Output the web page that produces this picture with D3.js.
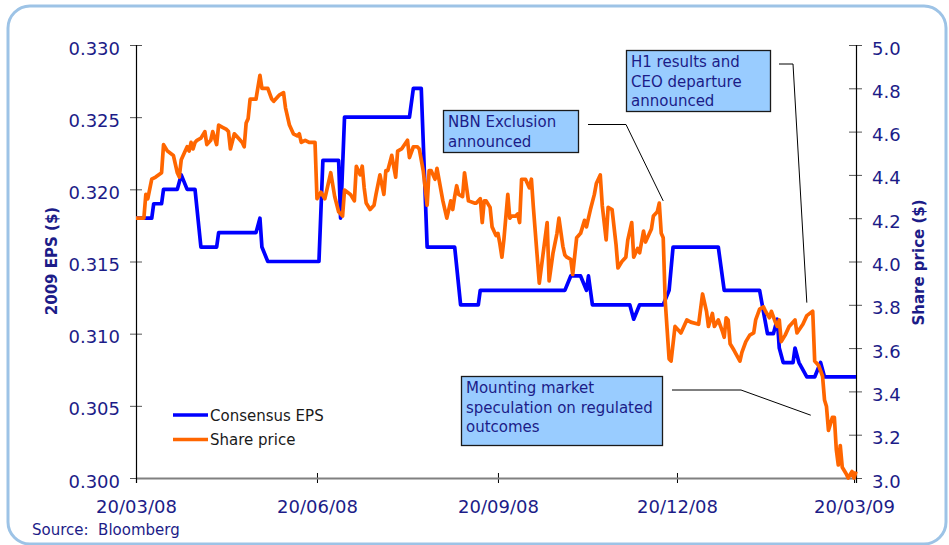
<!DOCTYPE html>
<html>
<head>
<meta charset="utf-8">
<script src="https://cdnjs.cloudflare.com/ajax/libs/d3/7.8.5/d3.min.js"></script>
<style>
    body { margin: 0; background: #fff; }
    svg text { font-family: "DejaVu Sans", Verdana, sans-serif; }
</style>
</head>
<body>
<div id="root"></div>
<script>
// Consensus EPS vs share price, dual axis line chart
"use strict";

/* ************************************* Data ******************************** */

// Days are counted from 20/03/08
const startDay = "20/03/08";

const epsDays = [0, 8, 9, 13, 14, 21, 23, 26, 30, 33, 41, 42, 61, 63, 64, 67, 93, 95, 103, 104,
    106, 139, 141, 145, 148, 162, 165, 174, 175, 218, 221, 226, 229, 230, 232, 251, 253, 256, 268, 271,
    273, 296, 299, 317, 321, 324, 326, 327, 329, 334, 335, 337, 341, 345, 348, 350, 366];
const epsValues = [0.318, 0.318, 0.319, 0.319, 0.320, 0.320, 0.321, 0.320, 0.320, 0.316, 0.316, 0.317, 0.317, 0.318, 0.316, 0.315, 0.315, 0.322, 0.322, 0.318,
    0.325, 0.325, 0.327, 0.327, 0.316, 0.316, 0.312, 0.312, 0.313, 0.313, 0.314, 0.314, 0.313, 0.314, 0.312, 0.312, 0.311, 0.312, 0.312, 0.313,
    0.316, 0.316, 0.313, 0.313, 0.310, 0.310, 0.311, 0.309, 0.308, 0.308, 0.309, 0.308, 0.307, 0.307, 0.308, 0.307, 0.307];

const priceDays = [0, 4, 5, 6, 8, 10, 13, 14, 16, 19, 21, 22, 23, 25, 26, 27, 28, 29, 30, 31,
    33, 35, 36, 38, 39, 41, 42, 44, 46, 47, 48, 50, 52, 54, 55, 56, 57, 58, 61, 63,
    64, 67, 69, 70, 73, 75, 76, 78, 80, 82, 83, 84, 86, 88, 91, 92, 94, 96, 99, 101,
    103, 105, 106, 109, 111, 112, 114, 115, 116, 117, 119, 121, 122, 124, 126, 127, 128, 130, 132, 133,
    135, 138, 139, 141, 143, 144, 146, 148, 149, 150, 152, 153, 156, 158, 160, 161, 162, 163, 164, 166,
    167, 169, 172, 173, 175, 176, 177, 178, 180, 181, 183, 184, 185, 186, 187, 189, 190, 191, 193, 194,
    195, 196, 198, 200, 201, 202, 205, 207, 209, 210, 212, 214, 215, 217, 218, 219, 221, 222, 224, 226,
    228, 229, 230, 231, 233, 234, 236, 237, 239, 240, 242, 244, 245, 247, 249, 250, 252, 253, 255, 256,
    258, 259, 262, 263, 265, 266, 267, 268, 269, 271, 272, 274, 276, 277, 280, 282, 286, 288, 290, 291,
    293, 294, 296, 298, 299, 300, 301, 302, 304, 307, 308, 310, 312, 314, 315, 317, 319, 320, 322, 323,
    325, 326, 327, 328, 330, 332, 335, 336, 339, 341, 344, 345, 347, 349, 350, 351, 352, 354, 355, 356,
    357, 358, 359, 361, 362, 364, 365, 366];
const priceValues = [4.20, 4.20, 4.31, 4.29, 4.38, 4.39, 4.41, 4.54, 4.51, 4.49, 4.41, 4.39, 4.47, 4.51, 4.53, 4.51, 4.55, 4.52, 4.55, 4.56,
    4.57, 4.60, 4.54, 4.56, 4.60, 4.54, 4.63, 4.62, 4.61, 4.60, 4.52, 4.59, 4.57, 4.55, 4.53, 4.64, 4.66, 4.75, 4.75, 4.86,
    4.80, 4.80, 4.75, 4.74, 4.77, 4.78, 4.71, 4.63, 4.59, 4.58, 4.59, 4.55, 4.56, 4.55, 4.55, 4.29, 4.32, 4.29, 4.41, 4.30,
    4.23, 4.21, 4.33, 4.31, 4.28, 4.44, 4.40, 4.44, 4.34, 4.27, 4.24, 4.26, 4.31, 4.40, 4.31, 4.42, 4.42, 4.49, 4.39, 4.51,
    4.52, 4.56, 4.48, 4.53, 4.53, 4.52, 4.42, 4.26, 4.42, 4.42, 4.38, 4.43, 4.28, 4.20, 4.28, 4.24, 4.30, 4.35, 4.31, 4.30,
    4.41, 4.28, 4.27, 4.27, 4.29, 4.18, 4.28, 4.28, 4.25, 4.16, 4.12, 4.13, 4.08, 4.02, 4.10, 4.31, 4.20, 4.21, 4.21, 4.22,
    4.18, 4.38, 4.38, 4.34, 4.38, 4.25, 3.90, 4.04, 4.18, 3.91, 4.04, 4.13, 4.20, 4.07, 4.03, 4.02, 4.01, 3.94, 4.11, 4.13,
    4.19, 4.16, 4.20, 4.24, 4.31, 4.36, 4.40, 4.26, 4.10, 4.25, 4.24, 4.08, 3.97, 4.00, 4.02, 4.10, 4.18, 4.02, 4.06, 4.04,
    4.14, 4.09, 4.15, 4.21, 4.23, 4.27, 4.13, 4.11, 3.82, 3.55, 3.54, 3.70, 3.68, 3.67, 3.73, 3.72, 3.71, 3.85, 3.77, 3.70,
    3.76, 3.70, 3.73, 3.68, 3.65, 3.74, 3.73, 3.62, 3.59, 3.54, 3.58, 3.63, 3.66, 3.67, 3.73, 3.78, 3.79, 3.77, 3.74, 3.77,
    3.72, 3.70, 3.73, 3.63, 3.66, 3.70, 3.73, 3.67, 3.71, 3.75, 3.77, 3.54, 3.52, 3.47, 3.36, 3.33, 3.22, 3.28, 3.28, 3.13,
    3.06, 3.15, 3.05, 3.02, 3.00, 3.03, 3.00, 3.03];

const xTickLabels = ["20/03/08", "20/06/08", "20/09/08", "20/12/08", "20/03/09"];
const epsTicks = [0.300, 0.305, 0.310, 0.315, 0.320, 0.325, 0.330];
const priceTicks = [3.0, 3.2, 3.4, 3.6, 3.8, 4.0, 4.2, 4.4, 4.6, 4.8, 5.0];

const seriesNames = ["Consensus EPS", "Share price"];

// Annotations: text lines and the point (day, share price) each leader line points at
const annotationLines = [
    ["NBN Exclusion", "announced"],
    ["H1 results and", "CEO departure", "announced"],
    ["Mounting market", "speculation on regulated", "outcomes"]
];
const annotationDays = [268, 341, 343.5];
const annotationPrices = [4.28, 3.81, 3.29];

/* ************************************* Set up ******************************** */

const width = 949;
const height = 545;

const margin = {
    top: 45,
    right: 93,
    bottom: 67,
    left: 136
};

const drawWidth = width - margin.left - margin.right;
const drawHeight = height - margin.top - margin.bottom;

const epsColor = "#0000FF";
const priceColor = "#FF6600";
const navy = "#1c1c88";
const lineWidth = 3.7;

const parseDay = d3.timeParse("%d/%m/%y");
const start = parseDay(startDay);
const dayToDate = (d) => d3.timeDay.offset(start, d);

let svg = d3.select('#root')
    .append('svg')
    .attr('width', width)
    .attr('height', height);

// Rounded light blue frame
svg.append('rect')
    .attr('x', 8)
    .attr('y', 6)
    .attr('width', 938)
    .attr('height', 538)
    .attr('rx', 22)
    .attr('fill', 'none')
    .attr('stroke', '#9DC3E6')
    .attr('stroke-width', 3);

let chartG = svg.append('g')
    .attr('transform', 'translate(' + margin.left + ',' + margin.top + ')');

/* ************************************* Scales ******************************** */

let xScale = d3.scaleTime()
    .domain([start, dayToDate(366)])
    .range([0, drawWidth]);

let epsScale = d3.scaleLinear()
    .domain([0.300, 0.330])
    .range([drawHeight, 0]);

let priceScale = d3.scaleLinear()
    .domain([3.0, 5.0])
    .range([drawHeight, 0]);

/* ************************************* Axes ******************************** */

let xAxis = d3.axisBottom(xScale)
    .tickValues(xTickLabels.map(parseDay))
    .tickFormat(d3.timeFormat("%d/%m/%y"))
    .tickSize(0)
    .tickPadding(22);

let yAxisLeft = d3.axisLeft(epsScale)
    .tickValues(epsTicks)
    .tickFormat(d3.format(".3f"))
    .tickSize(0)
    .tickPadding(16);

let yAxisRight = d3.axisRight(priceScale)
    .tickValues(priceTicks)
    .tickFormat(d3.format(".1f"))
    .tickSize(0)
    .tickPadding(16);

let xG = chartG.append('g')
    .attr('transform', 'translate(0,' + drawHeight + ')')
    .call(xAxis);

let leftG = chartG.append('g').call(yAxisLeft);

let rightG = chartG.append('g')
    .attr('transform', 'translate(' + drawWidth + ',0)')
    .call(yAxisRight);

// Plain axis lines, drawn by hand so the colours match
[xG, leftG, rightG].forEach((g) => g.select('.domain').remove());

chartG.append('line')
    .attr('x1', 0).attr('x2', drawWidth)
    .attr('y1', drawHeight + 0.5).attr('y2', drawHeight + 0.5)
    .attr('stroke', '#808080')
    .attr('stroke-width', 2);

[0, drawWidth].forEach((x) => {
    chartG.append('line')
        .attr('x1', x + 0.5).attr('x2', x + 0.5)
        .attr('y1', 0).attr('y2', drawHeight + 5)
        .attr('stroke', '#000')
        .attr('stroke-width', 1.2);
});

// Ticks cross the axis line
xG.selectAll('.tick line').attr('y1', -5).attr('y2', 5).attr('stroke', '#000');
leftG.selectAll('.tick line').attr('x1', -6).attr('x2', 6).attr('stroke', '#555');
rightG.selectAll('.tick line').attr('x1', -7).attr('x2', 6).attr('stroke', '#555');

[xG, leftG, rightG].forEach((g) => {
    g.selectAll('text')
        .attr('fill', navy)
        .style('font-size', '18px')
        .style('font-family', '"DejaVu Sans", Verdana, sans-serif');
});
leftG.selectAll('text').attr('dy', '0.5em');
rightG.selectAll('text').attr('dy', '0.5em');

// Axis titles
svg.append('text')
    .attr('transform', 'translate(57,261) rotate(-90)')
    .attr('text-anchor', 'middle')
    .attr('fill', navy)
    .style('font-size', '15px')
    .style('font-weight', 'bold')
    .text("2009 EPS ($)");

svg.append('text')
    .attr('transform', 'translate(923.5,262.5) rotate(-90)')
    .attr('text-anchor', 'middle')
    .attr('fill', navy)
    .style('font-size', '15px')
    .style('font-weight', 'bold')
    .text("Share price ($)");

svg.append('text')
    .attr('x', 32)
    .attr('y', 535)
    .attr('fill', navy)
    .style('font-size', '15px')
    .style('white-space', 'pre')
    .text("Source:  Bloomberg");

/* ************************************* Lines ******************************** */

let epsData = epsDays.map((d, i) => ({ date: dayToDate(d), value: epsValues[i] }));
let priceData = priceDays.map((d, i) => ({ date: dayToDate(d), value: priceValues[i] }));

let epsLine = d3.line()
    .x((d) => xScale(d.date))
    .y((d) => epsScale(d.value));

let priceLine = d3.line()
    .x((d) => xScale(d.date))
    .y((d) => priceScale(d.value));

chartG.append('path')
    .datum(epsData)
    .attr('d', epsLine)
    .attr('fill', 'none')
    .attr('stroke', epsColor)
    .attr('stroke-width', lineWidth)
    .attr('stroke-linejoin', 'round');

chartG.append('path')
    .datum(priceData)
    .attr('d', priceLine)
    .attr('fill', 'none')
    .attr('stroke', priceColor)
    .attr('stroke-width', lineWidth)
    .attr('stroke-linejoin', 'round');

/* ************************************* Legend ******************************** */

let legend = svg.append('g').attr('transform', 'translate(173,415)');

[epsColor, priceColor].forEach((c, i) => {
    legend.append('line')
        .attr('x1', 0).attr('x2', 35)
        .attr('y1', i * 24.5).attr('y2', i * 24.5)
        .attr('stroke', c)
        .attr('stroke-width', lineWidth);
    legend.append('text')
        .attr('x', 37)
        .attr('y', i * 24.5 + 5.5)
        .attr('fill', '#1a1a1a')
        .style('font-size', '15px')
        .text(seriesNames[i]);
});

/* ************************************* Annotations ******************************** */

// Box placement and leader elbows (pixels)
const boxes = [
    { x: 443.5, y: 110.5, w: 135, h: 42, lineStart: [588, 124.5], elbow: [626, 124.5] },
    { x: 626.5, y: 50.5, w: 144, h: 61, lineStart: [779, 64], elbow: [793, 64] },
    { x: 461.5, y: 376.5, w: 201, h: 69, lineStart: [672, 390], elbow: [741, 390] }
];

boxes.forEach((b, i) => {
    let tipX = margin.left + xScale(dayToDate(annotationDays[i]));
    let tipY = margin.top + priceScale(annotationPrices[i]);

    svg.append('polyline')
        .attr('points', [b.lineStart, b.elbow, [tipX, tipY]].map((p) => p.join(',')).join(' '))
        .attr('fill', 'none')
        .attr('stroke', '#000')
        .attr('stroke-width', 1);

    svg.append('rect')
        .attr('x', b.x)
        .attr('y', b.y)
        .attr('width', b.w)
        .attr('height', b.h)
        .attr('fill', '#99CCFF')
        .attr('stroke', '#1a1a1a')
        .attr('stroke-width', 1.3);

    let t = svg.append('text')
        .attr('fill', navy)
        .style('font-size', '15px');

    annotationLines[i].forEach((line, j) => {
        t.append('tspan')
            .attr('x', b.x + 4.5)
            .attr('y', b.y + 16.5 + j * 19.5)
            .text(line);
    });
});
</script>
</body>
</html>
